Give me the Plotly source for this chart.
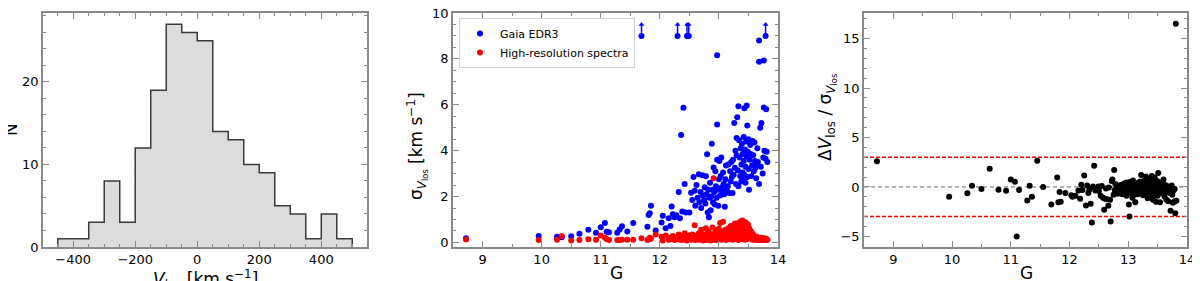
import plotly.graph_objects as go

# ---------------- data ----------------
# Histogram of line-of-sight velocities (bin edges, counts)
bin_edges = [-450, -400, -350, -300, -250, -200, -150, -100, -50, 0, 50,
             100, 150, 200, 250, 300, 350, 400, 450, 500]
counts = [1, 1, 3, 8, 3, 12, 19, 27, 26, 25, 14, 13, 10, 9, 5, 4, 1, 4, 1]

# Per star: G magnitude, Gaia EDR3 sigma, high-res sigma, dV/sigma
G = [8.72, 9.95, 10.26, 10.34, 10.50, 10.64, 10.79, 10.92, 11.00, 11.07,
     11.10, 11.14, 11.28, 11.32, 11.36, 11.45, 11.55, 11.79, 11.81, 11.83,
     11.85, 11.93,
     12.03, 12.05, 12.10, 12.15, 12.18, 12.20, 12.22, 12.25, 12.28, 12.32,
     12.34, 12.36, 12.38, 12.40, 12.42, 12.44, 12.50,
     12.53, 12.55, 12.57, 12.59, 12.60, 12.62, 12.64, 12.66, 12.67, 12.69,
     12.70, 12.72, 12.73, 12.75, 12.76, 12.77, 12.78, 12.79, 12.80, 12.81,
     12.82, 12.83, 12.84, 12.85, 12.86, 12.87, 12.88, 12.89, 12.90, 12.91,
     12.92, 12.93, 12.94, 12.95, 12.96, 12.97, 12.97, 12.97, 12.98, 12.99,
     13.00,
     13.01, 13.02, 13.03, 13.04, 13.05, 13.06, 13.07, 13.08, 13.09, 13.10,
     13.11, 13.12, 13.13, 13.15, 13.16, 13.18, 13.19, 13.20, 13.21, 13.22,
     13.23, 13.24, 13.25, 13.26, 13.27, 13.28, 13.29, 13.30, 13.30, 13.31,
     13.32, 13.33, 13.33, 13.34, 13.35, 13.36, 13.37, 13.38, 13.38, 13.39,
     13.40, 13.40, 13.41, 13.42, 13.42, 13.43, 13.43, 13.44, 13.45, 13.45,
     13.46, 13.47, 13.47, 13.48, 13.48, 13.49, 13.50, 13.50,
     13.51, 13.52, 13.53, 13.54, 13.55, 13.56, 13.57, 13.58, 13.59, 13.60,
     13.61, 13.62, 13.63, 13.64, 13.65, 13.66, 13.68, 13.68, 13.68, 13.70,
     13.71, 13.72, 13.74, 13.75, 13.76, 13.76, 13.77, 13.79, 13.80, 13.81,
     13.82]

sigma_gaia = [0.18, 0.28, 0.25, 0.22, 0.27, 0.38, 0.55, 0.42, 0.66, 0.85,
              0.47, 0.44, 0.42, 0.56, 0.70, 0.48, 0.85, 0.68, 1.20, 1.27,
              1.60, 0.52,
              0.87, 1.16, 0.62, 1.05, 0.72, 1.56, 1.23, 1.10, 1.18, 2.20,
              1.05, 4.68, 1.35, 5.87, 2.55, 1.30, 1.30,
              2.17, 1.85, 2.85, 2.25, 1.60, 2.50, 1.95, 2.97, 1.75, 2.20,
              1.50, 2.93, 2.05, 1.85, 2.40, 1.70, 2.88, 2.10, 3.84, 1.30,
              2.30, 1.10, 1.95, 2.60, 1.40, 2.00, 4.30, 2.30, 1.75, 3.26,
              2.20, 1.65, 3.10, 2.45, 1.95, 3.60, 5.14, 8.16, 2.30, 1.60,
              2.75,
              3.55, 2.05, 2.90, 3.70, 2.40, 2.20, 3.05, 2.55, 2.10, 1.55,
              2.75, 3.35, 2.30, 2.45, 3.40, 2.15, 3.10, 2.65, 3.50, 2.85,
              2.15, 3.60, 2.95, 5.20, 3.25, 4.00, 2.55, 3.80, 4.55, 5.46,
              3.15, 5.94, 2.45, 4.45, 3.70, 2.90, 4.10, 3.40, 2.65, 4.30,
              3.05, 3.85, 2.75, 4.60, 3.55, 5.85, 2.95, 4.05, 3.30, 2.60,
              4.40, 5.97, 3.75, 5.10, 2.85, 3.95, 4.50, 3.20,
              2.30, 3.60, 4.25, 3.85, 2.90, 3.35, 4.42, 3.80, 3.10, 4.35,
              3.55, 3.25, 2.80, 3.45, 4.10, 3.50, 2.55, 7.87, 8.80, 5.00,
              3.30, 5.20, 3.00, 3.70, 5.88, 7.93, 4.00, 3.65, 5.80, 3.95,
              3.50]

sigma_hr = [0.13, 0.10, 0.12, 0.28, 0.08, 0.10, 0.14, 0.12, 0.30, 0.20,
            0.15, 0.10, 0.10, 0.10, 0.12, 0.12, 0.12, 0.10, 0.14, 0.20,
            0.16, 0.35,
            0.25, 0.08, 0.30, 0.12, 0.20, 0.15, 0.28, 0.10, 0.22, 0.35,
            0.18, 0.10, 0.25, 0.12, 0.40, 0.20, 0.15,
            0.12, 0.35, 0.22, 0.75, 0.10, 0.28, 0.18, 0.40, 0.12, 0.30,
            0.55, 0.20, 0.08, 0.35, 0.15, 0.25, 0.62, 0.10, 0.30, 0.18,
            0.45, 0.12, 0.28, 0.38, 0.08, 0.22, 0.15, 0.65, 0.30, 2.80,
            0.12, 0.40, 0.20, 0.52, 0.10, 0.28, 0.35, 0.18, 0.45, 0.15,
            0.60,
            0.22, 0.85, 0.30, 0.12, 0.48, 0.25, 0.90, 0.18, 0.35, 0.28,
            0.55, 0.10, 0.40, 0.22, 0.62, 0.15, 0.35, 0.72, 0.25, 0.48,
            0.12, 0.58, 0.30, 0.20, 0.82, 0.40, 0.15, 0.65, 0.30, 0.22,
            0.50, 0.10, 0.85, 0.35, 0.60, 0.25, 0.92, 0.45, 0.15, 0.70,
            0.38, 0.95, 0.20, 0.55, 0.82, 0.30, 0.62, 0.12, 0.88, 0.45,
            0.25, 0.70, 0.35, 0.58, 0.15, 0.78, 0.40, 0.22,
            0.62, 0.30, 0.18, 0.50, 0.25, 0.40, 0.12, 0.35, 0.20, 0.28,
            0.15, 0.22, 0.10, 0.25, 0.18, 0.12, 0.20, 0.15, 0.10, 0.18,
            0.12, 0.20, 0.10, 0.15, 0.12, 0.10, 0.18, 0.12, 0.15, 0.10,
            0.12]

dv_norm = [2.60, -1.00, -0.65, 0.12, -0.20, 1.85, -0.28, -0.38, 0.75, 0.52,
           -5.00, -0.30, -1.37, 0.12, -1.00, 2.65, 0.00, 0.96, -1.55, -0.50,
           -1.50, -0.60,
           -0.85, -1.00, -0.90, -0.35, -1.20, 0.22, -0.30, 1.15, -1.88, -0.60,
           -0.25, -1.70, -3.60, 0.05, 2.13, -0.35, -0.40,
           -0.90, 0.10, -1.10, -2.30, -1.20, -0.15, -1.25, -1.90, -0.05, -1.30,
           -3.50, 0.60, 0.75, -0.80, 1.70, -0.30, 0.30, -0.55, -0.20, 0.10,
           -0.70, -0.40, 0.05, -0.25, -0.60, 0.20, -0.45, -0.10, -0.75, 0.00,
           -0.35, 0.35, -0.55, 0.10, -0.30, 0.45, -0.15, -0.90, 0.20, -0.40,
           -0.20,
           -1.78, -3.00, 0.50, -0.60, 0.25, -0.20, -1.10, 0.65, -0.45, -0.80,
           0.10, -1.55, 0.40, -0.30, -0.75, 0.20, -0.10, 0.55, -0.55, 1.20,
           -0.35, 0.15, -0.85, 0.35, -0.20, 0.70, -0.60, 0.05, 1.05, -0.30,
           0.30, -1.15, 0.50, -0.05, 0.85, -0.45, 0.20, -0.90, 0.60, -0.25,
           1.10, -0.60, 0.35, -1.30, 0.00, 0.75, -0.40, 0.15, -0.75, 0.95,
           -0.15, 0.40, -1.50, 0.25, -0.50, 0.60, -0.90, 0.10,
           1.40, -0.30, 0.45, -1.55, -0.10, 0.30, -0.65, 0.15, -0.40, 0.75,
           -0.20, -1.00, 0.20, -0.50, -1.30, 0.10, -0.25, -1.45, -0.30, 0.00,
           -0.60, -2.40, 0.15, -0.80, -0.15, -1.60, -0.35, -0.20, -2.65, 16.50,
           -1.40]

# Gaia stars with sigma beyond the plot (drawn as lower limits at sigma = 9)
lim_G = [11.69, 12.30, 12.46, 12.49, 13.79]
lim_sigma = [9.0, 9.0, 9.0, 9.0, 9.0]
lim_top = [9.5, 9.5, 9.5, 9.5, 9.5]
lim_hr = [0.18, 0.14, 0.08, 0.30, 0.10]
lim_dv = [-1.78, 0.15, -0.20, 0.05, -1.45]

thresholds = [-3, 3]

# ---------------- figure ----------------
FONT = "DejaVu Sans"
FRAME = "#8a8a8a"
OFF = 8            # page body margin of the html page
W, H = 1200 - OFF, 281 - OFF


def px(x):
    return (x - OFF) / W


def py(y):
    return 1 - (y - OFF) / H


fig = go.Figure()

# histogram fill
centers = [(a + b) / 2 for a, b in zip(bin_edges[:-1], bin_edges[1:])]
widths = [b - a for a, b in zip(bin_edges[:-1], bin_edges[1:])]
fig.add_trace(go.Bar(x=centers, y=counts, width=widths, marker=dict(color="#dcdcdc", line=dict(width=0)),
                     showlegend=False, xaxis="x", yaxis="y"))
# histogram step outline
sx = [bin_edges[0]] + bin_edges[:-1] + [bin_edges[-1], bin_edges[-1]]
sy = [0] + counts + [counts[-1], 0]
fig.add_trace(go.Scatter(x=sx, y=sy, mode="lines", line=dict(color="#3a3a3a", width=1.5, shape="hv"),
                         showlegend=False, xaxis="x", yaxis="y"))

# middle panel: arrows for limits
ax_x, ax_y = [], []
for g, a, b in zip(lim_G, lim_sigma, lim_top):
    ax_x += [g, g, None]
    ax_y += [a, b, None]
fig.add_trace(go.Scatter(x=ax_x, y=ax_y, mode="lines", line=dict(color="#0000ff", width=1.5),
                         showlegend=False, xaxis="x2", yaxis="y2"))
fig.add_trace(go.Scatter(x=lim_G, y=lim_top, mode="markers",
                         marker=dict(symbol="triangle-up", size=5, color="#0000ff"),
                         showlegend=False, xaxis="x2", yaxis="y2"))

all_G = G + lim_G
fig.add_trace(go.Scatter(x=all_G, y=sigma_gaia + lim_sigma, mode="markers", name="Gaia EDR3",
                         marker=dict(color="#0000ff", size=6), xaxis="x2", yaxis="y2"))
fig.add_trace(go.Scatter(x=all_G, y=sigma_hr + lim_hr, mode="markers", name="High-resolution spectra",
                         marker=dict(color="#ff0000", size=6), xaxis="x2", yaxis="y2"))

# right panel
fig.add_trace(go.Scatter(x=all_G, y=dv_norm + lim_dv, mode="markers", showlegend=False,
                         marker=dict(color="black", size=6), xaxis="x3", yaxis="y3"))

shapes = [dict(type="line", xref="x3 domain", x0=0, x1=1, yref="y3", y0=t, y1=t,
               line=dict(color="red", width=1.5, dash="4px,2px"), layer="below") for t in thresholds]
shapes.append(dict(type="line", xref="x3 domain", x0=0, x1=1, yref="y3", y0=0, y1=0,
                   line=dict(color="#666666", width=1, dash="4px,3px"), layer="below"))

tickfont = dict(family=FONT, size=13, color="black")
titlefont = dict(family=FONT, size=17, color="black")


def ax(domain, rng, dtick, minor_dtick, anchor):
    return dict(domain=domain, range=rng, dtick=dtick, tick0=0, ticks="inside", ticklen=6, tickwidth=1,
                tickcolor=FRAME, showline=True, linecolor=FRAME, linewidth=1.5, mirror="allticks",
                showgrid=False, zeroline=False, tickfont=tickfont, automargin=False, anchor=anchor,
                ticklabeloverflow="allow",
                minor=dict(dtick=minor_dtick, tick0=0, ticks="inside", ticklen=3, tickcolor=FRAME,
                           showgrid=False))


ydom = [py(247), py(13)]
xd1 = [px(43), px(367)]
xd2 = [px(453), px(778)]
xd3 = [px(864), px(1187)]

annotations = [
    dict(text="<i>V</i><sub>los</sub> [km s<sup>−1</sup>]", x=px(205), y=py(265), xanchor="center",
         yanchor="top"),
    dict(text="N", x=px(11), y=py(130), textangle=-90, xanchor="center", yanchor="middle"),
    dict(text="G", x=px(616), y=py(273), xanchor="center", yanchor="middle"),
    dict(text="σ<sub><i>V</i><sub>los</sub></sub> [km s<sup>−1</sup>]", x=px(417), y=py(146),
         textangle=-90, xanchor="center", yanchor="middle"),
    dict(text="G", x=px(1026), y=py(273), xanchor="center", yanchor="middle"),
    dict(text="Δ<i>V</i><sub>los</sub> / σ<sub><i>V</i><sub>los</sub></sub>", x=px(827), y=py(118),
         textangle=-90, xanchor="center", yanchor="middle"),
]
for a in annotations:
    a.update(xref="paper", yref="paper", showarrow=False, font=titlefont)

fig.update_layout(
    width=W, height=H, margin=dict(l=0, r=0, t=0, b=0),
    plot_bgcolor="white", paper_bgcolor="white", bargap=0,
    font=dict(family=FONT, color="black"),
    xaxis=ax(xd1, [-497.5, 547.5], 200, 50, "y"),
    yaxis=ax(ydom, [0, 28.35], 10, 2, "x"),
    xaxis2=ax(xd2, [8.5, 14.0001], 1, 0.5, "y2"),
    yaxis2=ax(ydom, [-0.2, 10.0001], 2, 0.5, "x2"),
    xaxis3=ax(xd3, [8.5, 14.0001], 1, 0.5, "y3"),
    yaxis3=ax(ydom, [-6.07, 17.58], 5, 1, "x3"),
    shapes=shapes,
    annotations=annotations,
    legend=dict(x=px(459), y=py(18), xanchor="left", yanchor="top",
                bgcolor="rgba(255,255,255,0)", bordercolor="#d0d0d0", borderwidth=1,
                font=dict(family=FONT, size=11, color="black"), tracegroupgap=0,
                itemwidth=30),
)

fig.write_html("out.html")
